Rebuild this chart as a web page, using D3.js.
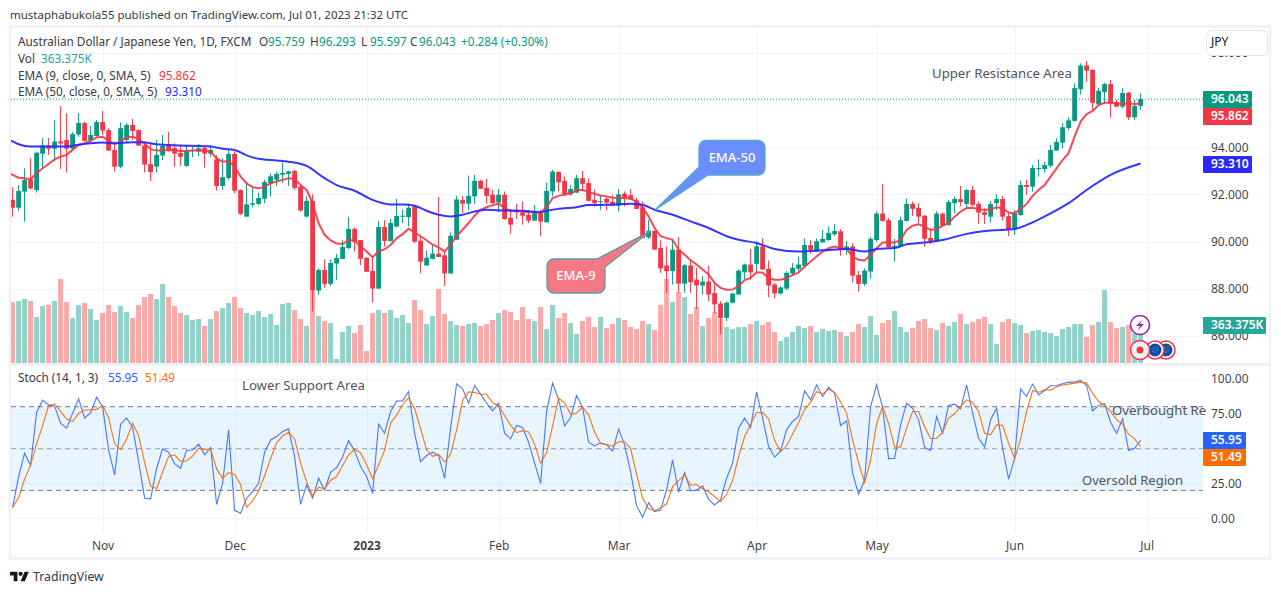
<!DOCTYPE html>
<html><head><meta charset="utf-8">
<script src="https://cdn.jsdelivr.net/npm/d3@7/dist/d3.min.js"></script>
<style>html,body{margin:0;padding:0;background:#fff;overflow:hidden}svg{display:block}text{font-family:"Noto Sans",sans-serif}</style>
</head><body><script>
const opens=[91.77,91.44,92.12,92.64,92.19,93.73,94.08,93.94,94.25,94.31,93.94,94.54,95.03,94.28,94.48,95.07,94.73,93.89,93.18,94.31,94.95,94.73,94.08,93.29,93.18,93.65,94.07,93.97,93.76,93.21,93.86,93.82,93.97,93.73,93.49,92.36,92.70,93.72,92.19,91.06,91.57,91.60,91.82,92.47,92.62,92.84,92.87,93.00,92.33,91.06,91.73,87.93,88.80,88.21,89.07,89.27,89.73,90.54,90.07,89.31,88.76,88.01,90.62,90.03,90.64,91.07,91.04,91.49,90.04,88.99,89.27,89.49,89.42,88.65,90.08,91.77,91.61,91.92,92.58,92.28,91.99,91.66,91.99,91.01,91.35,91.24,91.14,90.89,91.21,90.82,92.13,92.96,92.58,92.01,92.08,92.69,92.48,91.77,91.68,91.82,91.69,91.52,92.03,91.97,91.75,91.46,90.18,90.46,89.73,88.99,88.75,89.66,88.22,88.99,88.39,88.14,88.31,87.82,87.38,86.77,87.41,87.76,88.70,89.03,89.06,89.80,88.85,88.18,87.80,88.01,88.65,88.85,88.97,89.85,89.59,89.97,90.07,90.31,90.44,89.68,89.80,88.59,88.21,88.73,90.07,91.19,90.91,89.76,89.79,90.88,91.60,91.43,91.10,90.16,90.02,91.19,90.71,91.63,91.80,91.60,92.19,91.60,91.25,91.06,91.63,91.81,91.08,90.53,91.13,92.40,92.33,93.10,93.08,93.22,93.86,94.20,94.82,95.12,96.46,97.47,97.28,95.82,96.34,96.68,95.92,95.72,96.32,95.27,95.759];
const highs=[92.31,92.40,93.11,93.53,93.82,94.40,94.40,95.16,95.75,95.44,94.64,95.45,95.07,94.90,95.16,95.54,94.81,94.24,95.06,95.02,95.20,94.76,94.24,94.21,94.31,94.52,94.65,94.17,94.10,94.10,94.03,94.14,94.03,94.10,93.68,93.53,93.89,93.82,92.22,92.55,92.31,92.08,92.62,92.90,92.97,93.35,93.01,93.04,92.40,91.94,92.01,88.87,89.25,89.25,89.48,90.07,91.05,90.60,90.07,89.34,89.37,90.88,90.92,90.96,91.81,91.35,91.61,91.52,90.23,89.63,89.86,91.89,89.59,90.39,91.94,91.94,92.80,92.83,92.62,92.66,92.20,92.24,92.13,91.38,91.61,91.70,91.35,91.56,91.35,92.51,93.04,92.97,92.76,92.41,92.83,93.00,92.69,92.20,91.99,91.92,91.99,92.23,92.13,92.23,91.85,91.70,90.93,90.46,90.08,89.80,90.08,90.20,89.06,89.24,88.90,88.54,88.99,88.25,87.48,87.48,87.83,88.82,89.07,89.69,90.01,90.15,89.20,88.25,88.11,88.75,89.10,89.38,90.14,90.07,90.14,90.50,90.64,90.75,90.53,90.03,89.93,88.76,88.87,90.21,91.29,92.45,91.00,90.12,91.06,91.84,91.70,91.63,91.13,90.50,91.29,91.23,91.77,91.91,92.36,92.23,92.36,91.70,91.42,91.73,92.01,91.94,91.20,91.34,92.59,92.62,93.25,93.49,93.39,94.10,94.38,95.02,95.27,96.71,97.56,97.66,97.31,96.53,96.74,96.85,96.01,96.50,96.34,96.01,96.293];
const lows=[91.06,91.30,90.85,92.22,92.08,93.11,93.68,93.39,93.08,92.93,93.92,94.45,94.24,94.20,94.45,94.52,93.86,92.97,93.11,94.24,94.31,94.06,92.93,92.57,92.93,93.46,93.82,93.18,93.22,93.18,93.58,93.63,93.14,93.60,92.16,92.19,92.62,92.05,91.13,91.06,91.46,91.54,91.63,91.91,92.36,92.50,92.36,92.19,91.27,91.03,87.04,87.74,88.05,88.12,88.38,89.27,89.68,89.58,89.01,88.72,87.42,88.01,89.79,90.00,90.61,90.79,90.65,89.94,88.65,88.99,89.24,89.35,88.11,88.65,90.08,91.21,91.35,91.61,92.23,91.61,91.61,91.24,90.93,90.34,90.96,90.72,90.79,90.89,90.23,90.82,91.92,92.13,91.94,91.94,92.06,92.13,91.70,91.49,91.35,91.32,91.52,91.28,91.49,91.77,91.38,90.15,90.11,89.66,88.68,87.83,88.18,87.83,87.83,87.83,87.15,87.76,87.48,86.96,86.07,86.63,87.38,87.73,88.39,88.39,88.68,88.82,87.65,87.59,87.76,87.94,88.58,88.75,88.94,89.48,89.56,89.96,90.04,90.24,89.40,89.44,88.27,87.88,88.12,88.44,90.00,90.85,89.72,89.16,89.76,90.85,91.09,90.78,89.79,89.90,89.99,90.67,90.67,91.20,91.49,91.42,91.49,90.75,90.75,90.81,91.34,90.89,90.24,90.29,91.10,91.98,92.12,92.76,92.93,93.14,93.86,93.96,94.73,95.09,96.23,96.78,95.58,95.75,95.86,95.26,95.72,95.65,95.16,95.16,95.597];
const closes=[91.44,92.15,92.62,92.25,93.77,94.08,93.94,94.25,94.16,93.94,94.56,95.03,94.27,94.52,95.07,94.71,93.86,93.18,94.81,94.95,94.69,94.07,93.27,92.95,93.68,94.06,93.89,93.73,93.60,93.84,93.89,93.96,93.73,93.89,92.36,92.73,93.72,92.16,91.18,91.58,91.63,91.85,92.53,92.77,92.87,92.91,92.98,92.28,91.32,91.73,87.93,88.80,88.21,89.10,89.31,89.78,90.54,89.99,89.27,88.72,88.01,90.62,90.03,90.79,91.09,91.10,91.44,90.00,89.15,89.32,89.49,89.35,88.65,90.25,91.79,91.61,91.94,92.58,92.24,91.94,91.63,91.99,90.96,90.72,91.24,91.10,90.89,91.21,90.85,92.15,92.97,92.52,92.01,92.23,92.69,92.45,91.73,91.63,91.72,91.65,91.52,92.01,91.86,91.80,91.39,90.15,90.46,89.66,88.87,88.75,89.66,88.22,89.00,88.28,88.14,88.31,87.76,87.34,86.76,87.41,87.80,88.77,89.03,88.70,89.80,88.82,88.14,87.80,88.06,88.68,88.89,89.03,89.86,89.65,90.02,90.12,90.37,90.45,89.65,89.80,88.56,88.21,88.77,90.12,91.19,90.88,89.76,89.83,90.91,91.60,91.39,91.06,90.12,90.02,91.19,90.68,91.68,91.81,91.68,92.19,91.56,91.23,91.13,91.60,91.81,91.06,90.53,91.20,92.40,92.32,93.12,93.12,93.25,93.89,94.23,94.85,95.14,96.51,97.47,97.25,95.89,96.40,96.68,95.86,95.72,96.30,95.27,95.75,96.043];
const volumes=[592,602,621,602,448,554,564,602,815,592,438,564,583,525,419,486,564,496,554,496,438,564,641,670,621,766,641,554,486,467,419,428,361,428,506,535,583,641,535,486,467,506,448,477,370,573,583,515,428,361,699,457,409,390,42,303,361,293,370,119,486,515,486,515,438,467,390,612,515,380,457,718,477,409,370,361,380,390,361,380,419,486,515,496,419,544,428,409,544,332,564,438,486,390,283,409,448,351,448,341,380,438,419,351,332,409,380,322,564,815,592,689,641,477,544,361,438,496,430,351,332,351,351,380,409,370,399,303,216,254,303,361,341,361,303,332,312,322,303,264,303,380,351,457,274,390,419,506,351,303,341,409,428,341,322,390,361,399,477,380,399,428,448,380,187,399,428,390,370,293,312,322,303,293,264,332,351,380,380,254,370,399,708,399,341,351,370,290,363.375];
const ema9Bars=[-1].concat(d3.range(189));
const ema9=[93.00,92.83,92.71,92.69,92.64,92.90,93.11,93.29,93.49,93.60,93.68,93.89,94.10,94.17,94.27,94.42,94.45,94.28,94.13,94.24,94.42,94.45,94.34,94.17,93.92,93.86,93.86,93.89,93.86,93.84,93.84,93.86,93.86,93.86,93.82,93.53,93.39,93.42,93.18,92.76,92.47,92.31,92.26,92.33,92.47,92.55,92.62,92.69,92.66,92.40,92.19,91.63,90.78,90.29,90.05,89.92,89.90,90.07,90.05,89.79,89.58,89.34,89.58,89.68,89.86,90.14,90.32,90.55,90.39,90.23,90.06,89.87,89.76,89.59,89.87,90.23,90.51,90.79,91.10,91.35,91.46,91.55,91.61,91.42,91.31,91.31,91.28,91.25,91.25,91.25,91.46,91.85,91.94,91.99,92.06,92.17,92.20,92.10,92.03,91.96,91.92,91.86,91.85,91.85,91.82,91.70,91.45,91.07,90.58,90.23,90.15,90.08,89.66,89.45,89.21,89.03,88.82,88.61,88.25,88.04,87.96,87.97,88.11,88.37,88.46,88.70,88.68,88.46,88.39,88.39,88.46,88.58,88.70,88.94,89.16,89.37,89.58,89.72,89.79,89.72,89.69,89.37,89.23,89.20,89.44,89.72,89.96,89.97,89.96,90.07,90.50,90.68,90.74,90.64,90.50,90.53,90.67,90.78,91.06,91.27,91.43,91.44,91.37,91.34,91.37,91.46,91.42,91.23,91.20,91.39,91.60,91.94,92.19,92.40,92.76,93.11,93.46,93.75,94.45,95.09,95.41,95.54,95.79,95.89,95.89,95.86,95.85,95.86,95.84,95.862];
const ema50Bars=[-1,0,1,3,5,9,11,13,15,17,20,22,24,28,33,35,37,39,41,44,46,49,52,54,57,60,63,65,67,69,71,73,75,77,79,82,85,88,89,91,94,96,99,103,105,107,110,113,116,119,121,124,127,131,134,136,139,142,144,147,149,152,155,159,163,167,170,173,176,179,183,188];
const ema50=[94.33,94.25,94.13,94.03,94.03,94.03,94.11,94.17,94.20,94.17,94.21,94.20,94.13,94.08,94.03,93.94,93.89,93.66,93.51,93.44,93.39,93.21,92.69,92.40,92.16,91.77,91.58,91.58,91.52,91.31,91.14,91.07,91.14,91.28,91.35,91.32,91.31,91.25,91.31,91.39,91.46,91.55,91.56,91.61,91.56,91.35,91.14,90.86,90.58,90.23,90.08,89.94,89.69,89.58,89.61,89.65,89.69,89.58,89.69,89.73,89.89,89.96,90.07,90.33,90.47,90.54,90.82,91.20,91.63,92.19,92.83,93.31];
const stochK=[7.7,29.9,46.7,37.8,76.1,84.7,81.3,80.4,68.2,64.6,75.4,85.6,71.8,75.8,86.8,80.1,49,31.1,67.5,71.8,65.3,40.7,14.4,13.9,35.9,49.8,47.4,39.2,35.9,48.8,49,53.1,45.5,50.7,10,25.1,63.4,5.7,3.6,14.4,19.1,25.1,47.4,56.2,58.6,62.2,64.1,44.3,10,23.9,14.4,28.7,20.3,33,36.4,44,55.7,48.3,37.1,29.9,17.9,67.5,61,76.6,84,84.2,90.9,61,40.7,45,47.4,45,28.7,64.6,96.4,92.8,82.5,95.2,89,82.5,77,82.5,61,56.9,66.5,65.1,54.5,39.5,25.1,76.6,96.9,84.9,66.3,72.2,88,79.4,54.5,51.9,54.1,52.6,48.3,63.9,52.6,33.5,8.9,0.7,11.2,4.8,6,20.3,41.9,18.7,32.8,19.6,20.3,23.2,13.6,9.6,13.2,28.7,39.5,64.6,71.8,65.1,90.4,71.8,51.4,43.8,48.3,63.4,69.4,73,91.4,84.9,95.7,87.3,93.8,89.7,66.5,69.9,32.3,17.2,27.5,80.1,95.7,79.4,42.6,43.1,67,82.5,78.9,70.6,50.7,48.6,73,61,80.9,81.8,78.5,95.7,75.4,57.4,51,70.6,78.9,50.2,28,43.1,92.8,87.3,96.2,88.5,91.6,95,95.2,96.4,97.6,97.6,98.8,95.2,77,80.9,82.1,68.9,61,71.3,48.6,50.2,55.95];
const stochD=[7.7,15,28.1,38.1,53.5,66.2,80.7,82.1,76.6,71.1,69.4,75.2,77.6,77.7,78.1,80.9,72,53.4,49.2,56.8,68.2,59.3,40.1,23,21.4,33.2,44.4,45.5,40.8,41.3,44.6,50.3,49.2,49.8,35.4,28.6,32.8,31.4,24.2,7.9,12.4,19.5,30.5,42.9,54.1,59,61.6,56.9,39.5,26.1,16.1,22.3,21.1,27.3,29.9,37.8,45.4,49.3,47,38.4,28.3,38.4,48.8,68.4,73.9,81.6,86.4,78.7,64.2,48.9,44.4,45.8,40.4,46.1,63.2,84.6,90.6,90.2,88.9,88.9,82.8,80.7,73.5,66.8,61.5,62.8,62,53,39.7,47.1,66.2,86.1,82.7,74.5,75.5,79.9,74,61.9,53.5,52.9,51.7,54.9,54.9,50,31.7,14.4,6.9,5.6,7.3,10.4,22.7,27,31.1,23.7,24.2,21,19,15.5,12.1,17.2,27.1,44.3,58.6,67.2,75.8,75.8,71.2,55.7,47.8,51.8,60.4,68.6,77.9,83.1,90.7,89.3,92.3,90.3,83.3,75.4,56.2,39.8,25.7,41.6,67.8,80,68,51,51,64.6,76.6,76.6,65.8,57,57.4,61.5,71.8,74.9,80.1,84.9,83,76.6,61,59.8,67,66.7,53.8,42.6,57,76.6,91.6,90.4,92.1,91.9,94.3,95.5,96.2,96.9,97.6,96.9,89.7,83.7,80.9,76.6,70.6,67.5,60.3,56.9,51.49];
const priceGrid=[98,96,94,92,90,88,86];
const priceLabels=[98,94,92,90,88,86];
const stochGrid=[100,75,50,25,0];
const stochLabels=[100,75,25,0];
const stochLevels=[80,50,20];
const monthBars=[15,37,59,81,101,124,144,167,189];
const monthNames=["Nov","Dec","2023","Feb","Mar","Apr","May","Jun","Jul"];
const W=1281,H=595,paneR=1203;
const C={up:"#089981",dn:"#f23645",grid:"#f0f3fa",txt:"#363a45",frame:"#eff1f6",blue:"#2a2aff"};
const svg=d3.select("body").append("svg").attr("width",W).attr("height",H);
svg.append("rect").attr("width",W).attr("height",H).attr("fill","#fff");
const x=d3.scaleLinear().domain([0,188]).range([12.6,1140.6]);
const y=d3.scaleLinear().domain([86,94]).range([336.0,147.3]);
const yVol=d3.scaleLinear().domain([0,363.375]).range([363.3,325.7]);
const yS=d3.scaleLinear().domain([0,100]).range([518.3,378.8]);
const defs=svg.append("defs");
defs.append("clipPath").attr("id","cp").append("rect").attr("x",11).attr("y",28).attr("width",paneR-11).attr("height",335);
defs.append("clipPath").attr("id","cs").append("rect").attr("x",11).attr("y",366).attr("width",paneR-11).attr("height",166);
// frame
const frame=svg.append("g");
frame.append("rect").attr("x",10).attr("y",26.5).attr("width",1260).attr("height",532).attr("fill","none").attr("stroke",C.frame).attr("stroke-width",2.5);
frame.append("rect").attr("x",11).attr("y",363.5).attr("width",1259).attr("height",2).attr("fill","#eaecf2");
// grid
const grid=svg.append("g").attr("stroke",C.grid).attr("stroke-width",1);
grid.selectAll("line.v").data(monthBars).join("line").attr("x1",d=>Math.round(x(d))+.5).attr("x2",d=>Math.round(x(d))+.5).attr("y1",28).attr("y2",532);
grid.selectAll("line.p").data(priceGrid).join("line").attr("x1",11).attr("x2",paneR).attr("y1",d=>Math.round(y(d))+.5).attr("y2",d=>Math.round(y(d))+.5);
grid.selectAll("line.s").data(stochGrid).join("line").attr("x1",11).attr("x2",paneR).attr("y1",d=>Math.round(yS(d))+.5).attr("y2",d=>Math.round(yS(d))+.5);
// stoch band and levels
svg.append("rect").attr("x",11).attr("width",paneR-11).attr("y",yS(80)).attr("height",yS(20)-yS(80)).attr("fill","#2196f3").attr("opacity",.1);
svg.append("g").selectAll("line").data(stochLevels).join("line").attr("x1",11).attr("x2",paneR)
  .attr("y1",d=>yS(d)).attr("y2",d=>yS(d)).attr("stroke","#787b86").attr("stroke-dasharray","5,4").attr("opacity",d=>d===50?.6:1);
// volume
const idx=d3.range(closes.length);
const main=svg.append("g").attr("clip-path","url(#cp)");
main.append("g").selectAll("rect").data(idx).join("rect").attr("x",i=>x(i)-2.5).attr("width",5)
  .attr("y",i=>yVol(volumes[i])).attr("height",i=>yVol(0)-yVol(volumes[i]))
  .attr("fill",i=>closes[i]>=opens[i]?"#92d2c9":"#f8a9a8");
// candles
const col=i=>closes[i]>=opens[i]?C.up:C.dn;
main.append("g").selectAll("line").data(idx).join("line").attr("x1",i=>x(i)).attr("x2",i=>x(i))
  .attr("y1",i=>y(highs[i])).attr("y2",i=>y(lows[i])).attr("stroke",col).attr("stroke-width",1);
main.append("g").selectAll("rect").data(idx).join("rect").attr("x",i=>x(i)-2.4).attr("width",4.8)
  .attr("y",i=>y(Math.max(opens[i],closes[i]))).attr("height",i=>Math.max(1,Math.abs(y(opens[i])-y(closes[i])))).attr("fill",col);
// EMAs
main.append("path").attr("d",d3.line().x((d,i)=>x(ema9Bars[i])).y(d=>y(d))(ema9)).attr("fill","none").attr("stroke","#f23645").attr("stroke-width",2).attr("opacity",.9);
main.append("path").attr("d",d3.line().x((d,i)=>x(ema50Bars[i])).y(d=>y(d)).curve(d3.curveMonotoneX)(ema50)).attr("fill","none").attr("stroke",C.blue).attr("stroke-width",2).attr("opacity",.95);
// last price line
svg.append("line").attr("x1",11).attr("x2",paneR).attr("y1",y(closes[188])).attr("y2",y(closes[188])).attr("stroke",C.up).attr("stroke-dasharray","1,2");
// stoch lines
const st=svg.append("g").attr("clip-path","url(#cs)");
st.append("path").attr("d",d3.line().x((d,i)=>x(i)).y(d=>yS(d))(stochK)).attr("fill","none").attr("stroke","#2962ff").attr("stroke-width",1.1).attr("opacity",.85);
st.append("path").attr("d",d3.line().x((d,i)=>x(i)).y(d=>yS(d))(stochD)).attr("fill","none").attr("stroke","#ff6d00").attr("stroke-width",1.1).attr("opacity",.95);
// axes
function styleAxis(g){g.select(".domain").remove();g.selectAll(".tick line").remove();g.selectAll("text").attr("fill","#131722").attr("fill-opacity",.85).style("font-size","12px").style("font-family",'"Noto Sans",sans-serif');}
svg.append("g").attr("transform","translate(1211,0)").call(d3.axisRight(y).tickValues(priceLabels).tickSize(0).tickPadding(0).tickFormat(d3.format(".3f"))).call(styleAxis);
svg.append("g").attr("transform","translate(1211,0)").call(d3.axisRight(yS).tickValues(stochLabels).tickSize(0).tickPadding(0).tickFormat(d3.format(".2f"))).call(styleAxis);
svg.append("g").attr("transform","translate(0,541.5)").call(d3.axisBottom(x).tickValues(monthBars).tickSize(0).tickPadding(0).tickFormat((d,i)=>monthNames[i])).call(styleAxis)
  .selectAll("text").style("font-weight",(d,i)=>monthNames[i]==="2023"?"700":"400");
// JPY box
svg.append("rect").attr("x",1206.5).attr("y",30.5).attr("width",61).attr("height",25).attr("rx",5).attr("fill","#fff").attr("stroke","#e0e3eb");
const T=(s,px,py,o={})=>svg.append("text").attr("x",px).attr("y",py).attr("dominant-baseline","middle").attr("fill",o.c||C.txt).style("font-size",(o.s||11.75)+"px").style("font-weight",o.w||400).attr("text-anchor",o.a||"start").text(s);
T("JPY",1211,42.5,{c:"#131722",s:12});
// value tags
const tag=(s,yc,w,fill)=>{svg.append("rect").attr("x",paneR).attr("y",yc-8.5).attr("width",w).attr("height",17).attr("rx",1).attr("fill",fill);T(s,paneR+8,yc+.5,{c:"#fff",w:600,s:12});};
tag(d3.format(".3f")(closes[188]),99.5,49,C.up);
tag(d3.format(".3f")(ema9[189]),116.5,49,C.dn);
tag(d3.format(".3f")(ema50[ema50.length-1]),164.5,49,C.blue);
tag("363.375K",325.5,63,"#26a69a");
tag(d3.format(".2f")(stochK[188]),440.5,43,"#2962ff");
tag(d3.format(".2f")(stochD[188]),457.5,43,"#ff6d00");
// header + legend
T("mustaphabukola55 published on TradingView.com, Jul 01, 2023 21:32 UTC",10,15.5,{s:11.5});
T("Australian Dollar / Japanese Yen, 1D, FXCM",18,42.5);
[["O","95.759",259],["H","96.293",310],["L","95.597",361],["C","96.043",410]].forEach(([a,b,p])=>{T(a,p,42.5);T(b,p+9,42.5,{c:C.up});});
T("+0.284 (+0.30%)",461,42.5,{c:C.up});
T("Vol",18,59.5);T("363.375K",41,59.5,{c:"#26a69a"});
T("EMA (9, close, 0, SMA, 5)",18,76.5);T("95.862",159,76.5,{c:C.dn});
T("EMA (50, close, 0, SMA, 5)",18,93);T("93.310",165,93,{c:C.blue});
T("Stoch (14, 1, 3)",18,379);T("55.95",108,379,{c:"#2962ff"});T("51.49",145,379,{c:"#ff6d00"});
// annotations
T("Upper Resistance Area",932,74.5,{s:13.2,c:"#50535e"});
T("Lower Support Area",242,386.5,{s:13.2,c:"#50535e"});
T("Overbought Re",1112,411.5,{s:13.2,c:"#50535e"});
T("Oversold Region",1082,481.5,{s:13,c:"#50535e"});
// callouts
(function(){
  const l=699,t=140.5,r=765,b=175,rad=7,tip=[x(107.1),y(91.35)];
  const pth=d3.path();
  pth.moveTo(l+rad,t);pth.lineTo(r-rad,t);pth.arcTo(r,t,r,t+rad,rad);pth.lineTo(r,b-rad);pth.arcTo(r,b,r-rad,b,rad);pth.lineTo(708,b);pth.lineTo(tip[0],tip[1]);pth.lineTo(l,167);pth.lineTo(l,t+rad);pth.arcTo(l,t,l+rad,t,rad);pth.closePath();
  svg.append("path").attr("d",pth.toString()).attr("fill","#6b8eff").attr("stroke","#52a9c9").attr("stroke-width",1.3);
})();
T("EMA-50",732,158,{s:13,c:"#fff",a:"middle",w:500});
(function(){
  const l=547,t=259,r=605,b=293,rad=7,tip=[x(106.4),y(90.46)];
  const pth=d3.path();
  pth.moveTo(l+rad,t);pth.lineTo(597,t);pth.lineTo(tip[0],tip[1]);pth.lineTo(r,267);pth.lineTo(r,b-rad);pth.arcTo(r,b,r-rad,b,rad);pth.lineTo(l+rad,b);pth.arcTo(l,b,l,b-rad,rad);pth.lineTo(l,t+rad);pth.arcTo(l,t,l+rad,t,rad);pth.closePath();
  svg.append("path").attr("d",pth.toString()).attr("fill","#f7717e").attr("fill-opacity",.95).attr("stroke","#5d9aa6").attr("stroke-width",1.3);
})();
T("EMA-9",576,276.5,{s:13,c:"#fff",a:"middle",w:500});
// status icons
const ic=svg.append("g");
ic.append("circle").attr("cx",1140).attr("cy",325).attr("r",9.5).attr("fill","#fff").attr("fill-opacity",.85).attr("stroke","#9c27b0").attr("stroke-width",1.6);
ic.append("path").attr("d","M1142.5 319.5 L1136 326 L1140 326 L1137.5 330.5 L1144 324 L1140 324 Z").attr("fill","#9c27b0");
[1166,1155].forEach(cx=>{ic.append("circle").attr("cx",cx).attr("cy",350).attr("r",9).attr("fill","#fff").attr("stroke","#f23645").attr("stroke-width",1.5);
  ic.append("circle").attr("cx",cx).attr("cy",350).attr("r",6.5).attr("fill","#0f4fa8");
  [[-1,-2],[2,0],[0,2],[2,-3],[-2,1]].forEach(p=>ic.append("circle").attr("cx",cx+p[0]).attr("cy",350+p[1]).attr("r",.5).attr("fill","#cfe0ff"));});
ic.append("circle").attr("cx",1140).attr("cy",350).attr("r",9.5).attr("fill","#f4f4f8").attr("stroke","#f23645").attr("stroke-width",1.5);
ic.append("circle").attr("cx",1140).attr("cy",350).attr("r",3.5).attr("fill","#f23645");
// footer logo
svg.append("path").attr("transform","translate(10,569.6) scale(.53)").attr("fill","#131722").attr("d","M14 22H7V11H0V4h14v18zM28 22h-8l7.5-18h8L28 22z");
svg.append("circle").attr("cx",10+20*.53).attr("cy",569.6+8*.53).attr("r",4*.53).attr("fill","#131722");
T("TradingView",33,577.5,{s:12.3,c:"#363a45"});
</script></body></html>
